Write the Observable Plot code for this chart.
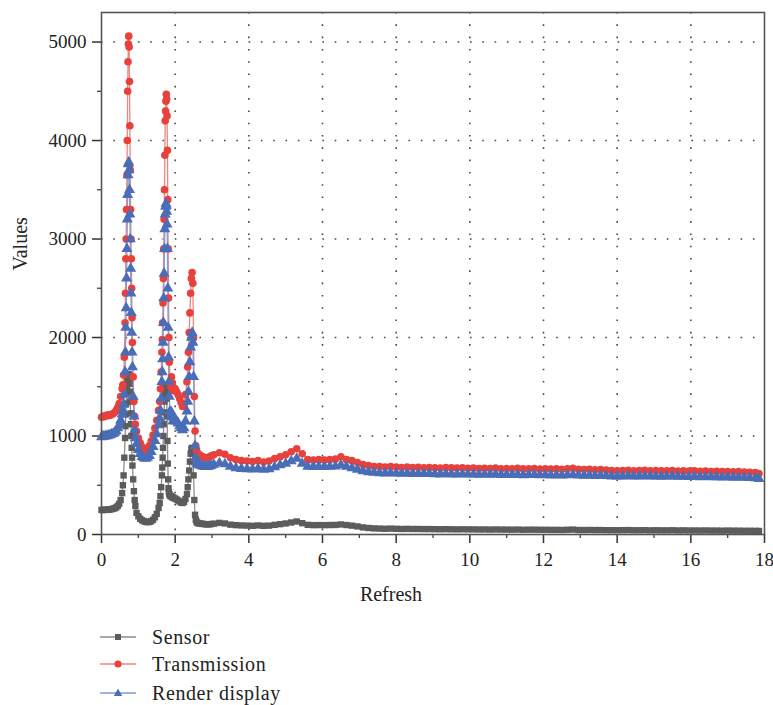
<!DOCTYPE html>
<html>
<head>
<meta charset="utf-8">
<script src="https://cdn.jsdelivr.net/npm/d3@7"></script>
<script src="https://cdn.jsdelivr.net/npm/@observablehq/plot@0.6"></script>
<style>
  html, body { margin: 0; padding: 0; background: #fff; }
  #wrap { position: relative; width: 773px; height: 705px; overflow: hidden; font-family: "Liberation Serif", "DejaVu Serif", serif; }
  .row { position: absolute; left: 100px; height: 22px; display: flex; align-items: center; font-size: 20px; letter-spacing: 0.6px; color: #222; }
  .row svg { margin-right: 16px; }
</style>
</head>
<body>
<div id="wrap"><div id="chart"></div><div id="legend"></div></div>
<script>
// Refresh (x) values
const refresh = [
  0,0.04,0.08,0.12,0.16,0.2,0.24,0.28,0.32,0.36,0.4,0.44,0.48,0.52,0.56,
  0.58,0.6,0.62,0.64,0.65,0.66,0.67,0.68,0.69,0.7,0.71,0.72,0.73,0.74,0.75,0.76,0.77,0.78,0.79,0.8,0.81,0.82,0.83,0.84,0.86,0.88,0.9,0.92,
  0.95,1,1.05,1.1,1.15,1.2,1.25,1.3,1.35,1.4,1.45,1.5,1.55,
  1.58,1.6,1.62,1.64,1.65,1.66,1.67,1.68,1.69,1.7,1.71,1.72,1.73,1.74,1.75,1.76,1.77,1.78,1.79,1.8,1.81,1.82,1.83,1.84,1.86,1.88,1.9,1.92,1.94,1.96,
  2,2.04,2.08,2.12,2.16,2.2,2.24,2.28,
  2.32,2.34,2.36,2.38,2.4,2.42,2.44,2.46,2.48,2.5,2.52,2.54,2.56,2.58,2.6,2.62,
  2.66,2.7,2.74,2.78,2.82,2.86,2.9,2.94,2.98,
  3.05,3.2,3.35,3.5,3.65,3.8,3.95,4.1,4.25,4.4,4.55,4.7,4.85,5.0,5.15,5.3,5.45,5.6,5.75,5.9,
  6.05,6.2,6.35,6.5,6.65,6.8,6.95,7.1,7.25,7.4,7.55,7.7,7.85,8.0,8.15,8.3,8.45,8.6,8.75,8.9,
  9.05,9.2,9.35,9.5,9.65,9.8,9.95,10.1,10.25,10.4,10.55,10.7,10.85,11.0,11.15,11.3,11.45,11.6,11.75,11.9,
  12.05,12.2,12.35,12.5,12.65,12.8,12.95,13.1,13.25,13.4,13.55,13.7,13.85,14.0,14.15,14.3,14.45,14.6,14.75,14.9,
  15.05,15.2,15.35,15.5,15.65,15.8,15.95,16.1,16.25,16.4,16.55,16.7,16.85,17.0,17.15,17.3,17.45,17.6,17.75,17.85
];
const sensor = [
  250,248,250,252,250,253,255,258,262,268,275,290,310,350,420,
  500,600,780,980,1100,1220,1330,1430,1500,1560,1600,1620,1630,1620,1590,1530,1450,1350,1230,1120,1000,880,780,700,560,440,350,290,
  220,185,160,145,135,128,125,128,135,150,175,210,270,
  320,390,480,600,680,780,880,1000,1120,1240,1350,1430,1490,1520,1510,1470,1380,1200,950,720,560,470,430,410,395,390,385,380,375,370,
  365,355,345,335,325,320,330,360,
  410,480,560,650,740,820,870,880,820,600,350,200,150,130,120,115,
  112,110,108,106,105,104,104,105,106,
  110,118,112,100,95,92,90,88,92,88,90,98,105,112,122,132,115,98,95,96,
  95,96,97,102,96,90,82,72,66,62,60,58,60,58,56,57,56,56,55,55,
  54,53,54,53,52,53,52,52,51,51,50,51,50,50,49,50,48,49,49,48,
  48,47,47,46,48,50,46,45,46,45,45,44,44,43,44,45,43,43,44,42,
  43,42,42,43,41,42,41,41,40,41,40,40,39,40,39,39,38,38,37,36
];
const transmission = [
  1190,1200,1195,1210,1205,1215,1210,1220,1225,1240,1260,1290,1330,1400,1480,
  1520,1620,1800,2150,2450,2800,3000,3300,3650,4000,4500,4800,4980,5060,4950,4600,4150,3700,3300,3000,2800,2500,2200,1950,1600,1350,1200,1120,
  1050,980,930,890,870,860,870,900,950,1010,1080,1160,1260,
  1350,1480,1650,1850,1980,2150,2350,2600,2900,3200,3500,3850,4200,4300,4400,4470,4420,4250,3900,3400,2900,2400,2000,1750,1550,1500,1600,1540,1460,1490,
  1480,1450,1420,1380,1340,1300,1320,1420,
  1550,1700,1850,2050,2250,2450,2600,2660,2550,2000,1400,1050,900,850,830,820,
  810,800,790,785,780,780,785,790,800,
  810,830,815,780,760,750,745,740,750,735,745,770,790,810,840,870,820,760,755,760,
  755,760,765,790,760,750,730,710,700,690,690,685,690,685,680,685,680,682,678,680,
  678,675,680,676,674,678,672,675,670,672,670,674,668,670,668,672,666,668,670,665,
  668,664,666,663,668,672,662,660,662,658,660,655,650,648,650,652,648,650,652,648,
  650,646,648,650,645,646,644,646,642,644,640,642,638,640,636,638,634,632,630,620
];
const renderDisplay = [
  990,1000,995,1005,1000,1010,1010,1020,1025,1035,1050,1080,1110,1160,1220,
  1260,1320,1420,1650,1850,2100,2300,2600,2900,3200,3450,3650,3760,3780,3700,3500,3250,3000,2700,2450,2250,2050,1850,1700,1400,1200,1060,980,
  920,860,820,790,775,770,780,800,840,890,950,1020,1110,
  1180,1260,1380,1550,1650,1780,1950,2150,2400,2650,2900,3100,3250,3330,3360,3340,3280,3150,2900,2500,2100,1800,1550,1400,1250,1200,1240,1190,1150,1160,
  1170,1150,1130,1100,1080,1060,1080,1150,
  1250,1350,1450,1600,1750,1900,2000,2050,1950,1600,1150,900,780,730,720,710,
  705,700,695,690,688,688,690,695,700,
  710,725,715,690,675,668,665,662,668,660,665,685,705,720,745,770,720,690,688,690,
  688,690,692,705,690,675,660,645,635,628,625,622,625,620,618,620,617,618,615,617,
  614,612,615,612,610,613,610,611,608,610,608,610,606,608,606,608,604,606,607,603,
  605,602,604,601,604,606,600,599,600,597,598,595,592,591,592,594,591,592,593,590,
  591,588,590,591,587,588,586,587,584,586,583,584,581,582,579,580,577,575,573,565
];
const seriesNames = ["Sensor", "Transmission", "Render display"];
const markerColors = ["#5c5c5c", "#e8403b", "#4a6db8"];
const lineColors = ["#8c8c8c", "#f08582", "#819cd3"];
const symbols = ["square", "circle", "triangle"];
const xTicks = [0, 2, 4, 6, 8, 10, 12, 14, 16, 18];
const xMinor = [1, 3, 5, 7, 9, 11, 13, 15, 17];
const yTicks = [0, 1000, 2000, 3000, 4000, 5000];
const yMinor = [500, 1500, 2500, 3500, 4500];
const xTitle = "Refresh";
const yTitle = "Values";

const valueSets = [sensor, transmission, renderDisplay];
const rows = valueSets.map((vals, s) => refresh.map((r, i) => ({x: r, y: vals[i], s})));

const font = '"Liberation Serif", "DejaVu Serif", serif';
const dots = {stroke: "#333", strokeOpacity: 0.9, strokeWidth: 1.6, strokeDasharray: "1.6,10.7"};
const marks = [
  Plot.gridX(xTicks.slice(1, -1), dots),
  Plot.gridY(yTicks.slice(1), dots),
  Plot.axisX(xMinor, {tickSize: 4, tickFormat: () => "", stroke: "#444", strokeWidth: 1.3, label: null}),
  Plot.axisY(yMinor, {tickSize: 4, tickFormat: () => "", stroke: "#444", strokeWidth: 1.3, label: null}),
  Plot.axisX(xTicks, {tickSize: 9, tickPadding: 9, fontSize: 19, fill: "#222", stroke: "#333", strokeWidth: 1.5,
    tickFormat: d => String(d), label: null}),
  Plot.axisY(yTicks, {tickSize: 9, tickPadding: 6, fontSize: 19, fill: "#222", stroke: "#333", strokeWidth: 1.5,
    tickFormat: d => String(d), label: null}),
  Plot.text([xTitle], {text: d => d, frameAnchor: "bottom", dx: -42, dy: 60, fontSize: 20, fill: "#222", lineAnchor: "middle"}),
  Plot.text([yTitle], {text: d => d, frameAnchor: "left", dx: -81, dy: -3, rotate: -90, fontSize: 20, fill: "#222", lineAnchor: "middle"}),
];
rows.forEach((data, s) => {
  marks.push(Plot.line(data, {x: "x", y: "y", stroke: lineColors[s], strokeWidth: 1.3}));
});
rows.forEach((data, s) => {
  marks.push(Plot.dot(data, {x: "x", y: "y", symbol: () => symbols[s], fill: markerColors[s], stroke: "none",
    r: s === 0 ? 3.6 : s === 1 ? 3.8 : 4.1}));
});
marks.push(Plot.frame({stroke: "#555", strokeWidth: 1.6}));

const chart = Plot.plot({
  width: 773,
  height: 610,
  marginTop: 12,
  marginBottom: 76,
  marginLeft: 101,
  marginRight: 9,
  style: {fontFamily: font, fontSize: "18px", background: "#fff", color: "#222"},
  x: {domain: [0, 18]},
  y: {domain: [0, 5300]},
  marks
});
document.getElementById("chart").appendChild(chart);

// Legend below the chart
const legend = document.getElementById("legend");
const rowTops = [626, 653, 682];
seriesNames.forEach((name, s) => {
  const row = document.createElement("div");
  row.className = "row";
  row.style.top = rowTops[s] + "px";
  let marker;
  if (s === 0) marker = `<rect x="15" y="3" width="6" height="6" fill="${markerColors[s]}"/>`;
  else if (s === 1) marker = `<circle cx="18" cy="6" r="3.6" fill="${markerColors[s]}"/>`;
  else marker = `<polygon points="18,1.5 22.2,9 13.8,9" fill="${markerColors[s]}"/>`;
  row.innerHTML = `<svg width="36" height="12"><line x1="0" x2="36" y1="6" y2="6" stroke="${lineColors[s]}" stroke-width="1.6"/>${marker}</svg><span>${name}</span>`;
  legend.appendChild(row);
});
</script>
</body>
</html>
